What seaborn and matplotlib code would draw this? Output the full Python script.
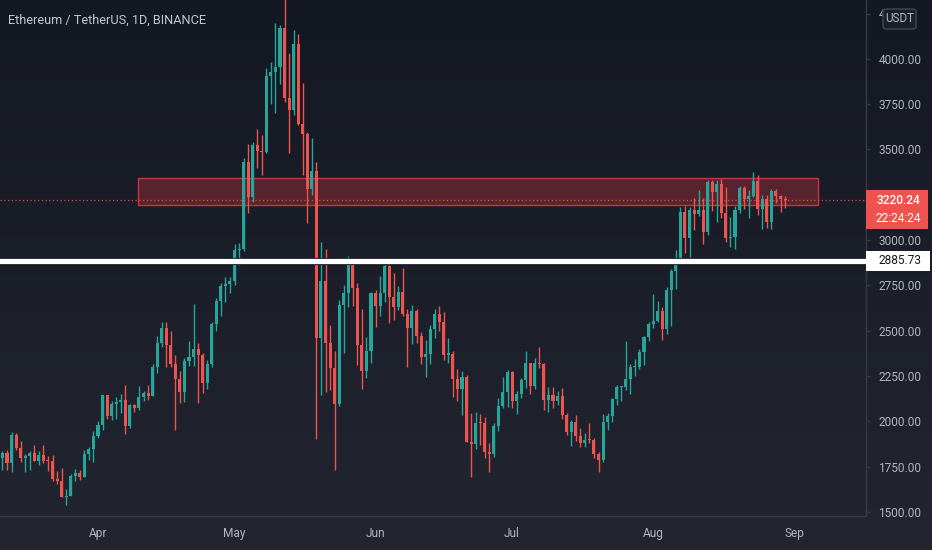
import numpy as np
import pandas as pd
import matplotlib
matplotlib.use("Agg")
import matplotlib.pyplot as plt
import matplotlib.dates as mdates
from matplotlib.colors import LinearSegmentedColormap
from matplotlib.patches import Rectangle, FancyBboxPatch
import seaborn as sns

# ETH/USDT daily candles, 2021-03-11 .. 2021-08-30
start_date = "2021-03-11"
opens = [1799, 1826, 1767, 1923, 1853, 1796, 1806, 1823, 1782, 1812, 1783, 1781, 1681, 1669, 1582, 1587, 1700, 1715, 1691, 1819, 1846,
         1919, 1977, 2143, 2028, 2093, 2108, 2118, 1971, 2088, 2071, 2136, 2157, 2139, 2299, 2432, 2514, 2422, 2316, 2235, 2163,
         2331, 2357, 2397, 2365, 2213, 2316, 2534, 2662, 2746, 2756,
         2773, 2945, 2948, 3431, 3240, 3524, 3490, 3484, 3903, 3929, 3953, 4168, 3785, 3715, 4079, 3640, 3587, 3282, 3380, 2460,
         2772, 2430, 2295, 2096, 2643, 2706, 2888, 2736, 2419, 2279, 2387,
         2706, 2634, 2707, 2855, 2688, 2630, 2715, 2590, 2517, 2609, 2472, 2353, 2372, 2508, 2590, 2548, 2367, 2372, 2231, 2178,
         2245, 1886, 1874, 1989, 1988, 1829, 1817, 1973, 2084, 2159,
         2274, 2112, 2150, 2226, 2320, 2197, 2323, 2316, 2116, 2147, 2111, 2140, 2036, 1940, 1995, 1917, 1880, 1898, 1895, 1820,
         1787, 1995, 2026, 2124, 2189, 2190, 2231, 2299, 2300, 2383, 2462,
         2537, 2555, 2608, 2508, 2725, 2827, 2890, 3157, 3013, 3163, 3141, 3164, 3045, 3322, 3265, 3310, 3149, 3011, 3017, 3167,
         3286, 3226, 3243, 3324, 3173, 3228, 3099, 3273, 3243, 3225]
highs = [1838, 1839, 1943, 1933, 1888, 1820, 1838, 1866, 1835, 1868, 1809, 1812, 1726, 1742, 1625, 1706, 1735, 1730, 1840, 1860, 1947,
         2001, 2145, 2145, 2110, 2135, 2150, 2200, 2095, 2095, 2195, 2167, 2200, 2315, 2470, 2545, 2548, 2497, 2363, 2277, 2350,
         2440, 2645, 2430, 2375, 2340, 2545, 2680, 2760, 2798, 2797,
         2977, 2985, 3450, 3530, 3542, 3611, 3580, 3950, 3980, 4200, 4186, 4372, 4030, 4160, 4138, 3866, 3595, 3562, 3430, 2990,
         2950, 2530, 2385, 2670, 2753, 2910, 2893, 2765, 2620, 2465, 2715,
         2725, 2800, 2890, 2860, 2818, 2745, 2845, 2620, 2640, 2620, 2493, 2450, 2530, 2620, 2635, 2600, 2460, 2388, 2290, 2275,
         2255, 2045, 2050, 2040, 2025, 1877, 1990, 2130, 2245, 2285,
         2275, 2165, 2240, 2385, 2320, 2350, 2410, 2323, 2190, 2190, 2165, 2185, 2044, 2005, 2035, 1960, 1935, 1990, 1907, 1830,
         2040, 2045, 2130, 2200, 2195, 2440, 2317, 2345, 2400, 2470, 2550,
         2700, 2665, 2630, 2740, 2840, 2945, 3180, 3185, 3180, 3230, 3275, 3230, 3330, 3330, 3330, 3335, 3290, 3125, 3185, 3300,
         3300, 3275, 3375, 3360, 3250, 3250, 3280, 3280, 3250, 3245]
lows = [1730, 1728, 1718, 1841, 1776, 1720, 1733, 1780, 1760, 1770, 1726, 1670, 1654, 1580, 1540, 1587, 1671, 1673, 1691, 1785, 1774,
        1905, 1953, 2010, 2005, 2010, 2045, 1932, 1960, 2050, 2060, 2113, 2118, 2139, 2265, 2410, 2300, 2301, 1950, 2100, 2108,
        2305, 2302, 2100, 2155, 2180, 2300, 2500, 2580, 2660, 2710,
        2750, 2860, 2940, 3150, 3211, 3400, 3360, 3480, 3750, 3700, 3860, 3760, 3480, 3690, 3635, 3360, 3095, 3250, 1900, 2145,
        2160, 2170, 1730, 2085, 2376, 2632, 2635, 2310, 2180, 2240, 2320,
        2520, 2578, 2660, 2540, 2560, 2616, 2580, 2300, 2425, 2430, 2315, 2245, 2318, 2460, 2500, 2340, 2320, 2135, 2110, 2034,
        1885, 1694, 1845, 1870, 1797, 1720, 1805, 1945, 2075, 2080,
        2075, 2040, 2130, 2185, 2152, 2180, 2295, 2060, 2050, 2075, 2090, 2010, 1925, 1865, 1890, 1855, 1855, 1880, 1795, 1718,
        1776, 1954, 1995, 2090, 2110, 2170, 2150, 2250, 2290, 2310, 2440,
        2515, 2545, 2450, 2480, 2525, 2730, 2880, 2930, 2905, 3055, 3130, 2980, 3030, 3160, 3100, 3120, 2990, 2960, 2950, 3150,
        3170, 3120, 3240, 3140, 3060, 3065, 3060, 3205, 3155, 3175]
closes = [1826, 1767, 1923, 1853, 1796, 1806, 1823, 1782, 1812, 1783, 1781, 1681, 1669, 1582, 1587, 1700, 1715, 1691, 1819, 1846, 1919,
          1977, 2143, 2028, 2093, 2108, 2118, 1971, 2088, 2071, 2136, 2157, 2139, 2299, 2432, 2514, 2422, 2316, 2235, 2163, 2331,
          2357, 2397, 2365, 2213, 2316, 2534, 2662, 2746, 2756, 2773,
          2945, 2948, 3431, 3240, 3524, 3490, 3484, 3903, 3929, 3953, 4168, 3785, 3715, 4079, 3640, 3587, 3282, 3380, 2460, 2772,
          2430, 2295, 2096, 2643, 2706, 2888, 2736, 2419, 2279, 2387, 2706,
          2634, 2707, 2855, 2688, 2630, 2715, 2590, 2517, 2609, 2472, 2353, 2372, 2508, 2590, 2548, 2367, 2372, 2231, 2178, 2245,
          1886, 1874, 1989, 1988, 1829, 1817, 1973, 2084, 2159, 2274,
          2112, 2150, 2226, 2320, 2197, 2323, 2316, 2116, 2147, 2111, 2140, 2036, 1940, 1995, 1917, 1880, 1898, 1895, 1820, 1787,
          1995, 2026, 2124, 2189, 2190, 2231, 2299, 2300, 2383, 2462, 2537,
          2555, 2608, 2508, 2725, 2827, 2890, 3157, 3013, 3163, 3141, 3164, 3045, 3322, 3265, 3310, 3149, 3011, 3017, 3167, 3286,
          3226, 3243, 3324, 3173, 3228, 3099, 3273, 3243, 3225, 3220.24]

month_ticks = ["2021-04-01", "2021-05-01", "2021-06-01", "2021-07-01", "2021-08-01", "2021-09-01"]
month_labels = ["Apr", "May", "Jun", "Jul", "Aug", "Sep"]
price_ticks = [1500, 1750, 2000, 2250, 2500, 2750, 3000, 3250, 3500, 3750, 4000, 4250]
# 3250 sits behind the last-price tag and 4250 is cut by the USDT badge
price_labels = ["1500.00", "1750.00", "2000.00", "2250.00", "2500.00", "2750.00", "3000.00", "",
                "3500.00", "3750.00", "4000.00", "4"]

zone_top, zone_bottom = 3342, 3192
zone_start, zone_end = "2021-04-09 20:00", "2021-09-06 05:00"
support_level = 2885.73
last_price = 3220.24
countdown = "22:24:24"
title = "Ethereum / TetherUS, 1D, BINANCE"

UP, DOWN = "#26a69a", "#ef5350"
TXT = "#b2b5be"
AXLINE = "#363a45"

sns.set_theme(style="dark", rc={"axes.facecolor": "none", "figure.facecolor": "#131722"})
plt.rcParams["font.family"] = ["Roboto", "DejaVu Sans"]

df = pd.DataFrame({"open": opens, "high": highs, "low": lows, "close": closes},
                  index=pd.date_range(start_date, periods=len(closes), freq="D"))
df["x"] = mdates.date2num(df.index)
df["up"] = df["close"] >= df["open"]

W, H = 932, 550
fig = plt.figure(figsize=(W / 100, H / 100), dpi=100)

# background gradient
bg = fig.add_axes([0, 0, 1, 1], zorder=-10)
grad = np.linspace(0, 1, 256).reshape(-1, 1)
cmap = LinearSegmentedColormap.from_list("tvbg", ["#141823", "#232630"])
bg.imshow(grad, aspect="auto", cmap=cmap, extent=[0, 1, 0, 1], origin="upper")
bg.set_axis_off()

plot_w, plot_h, bottom_h = 866, 516, 34
ax = fig.add_axes([0, bottom_h / H, plot_w / W, plot_h / H])
ax.patch.set_alpha(0)

px_per_day = 4.55
apr1 = mdates.date2num(pd.Timestamp("2021-04-01"))
xmin = apr1 - 98 / px_per_day
ax.set_xlim(xmin, xmin + plot_w / px_per_day)
ymax = 3000 + 240 / 0.1812
ax.set_ylim(ymax - plot_h / 0.1812, ymax)
ppu = plot_h / (ax.get_ylim()[1] - ax.get_ylim()[0])  # pixels per price unit

# candles
cols = np.where(df["up"], UP, DOWN)
ax.vlines(df["x"], df["low"], df["high"], colors=cols, lw=1.0, zorder=3)
body_lo = df[["open", "close"]].min(axis=1)
body_h = (df["close"] - df["open"]).abs().clip(lower=1.2 / ppu)
ax.bar(df["x"], body_h, bottom=body_lo, width=0.66, color=cols, linewidth=0, zorder=4)

# resistance zone
zx0 = mdates.date2num(pd.Timestamp(zone_start))
zx1 = mdates.date2num(pd.Timestamp(zone_end))
ax.add_patch(Rectangle((zx0, zone_bottom), zx1 - zx0, zone_top - zone_bottom,
                       facecolor=(0.85, 0.2, 0.24, 0.32), edgecolor=(0.9, 0.22, 0.26, 0.85), lw=1.0, zorder=2))

# support line
ax.axhline(support_level, color="#131722", lw=5.2, zorder=5)
ax.axhline(support_level, color="white", lw=3.8, zorder=6)

# last price dotted line
ax.axhline(last_price, color=DOWN, lw=0.9, ls=(0, (1, 2)), alpha=0.9, zorder=5)

# axes styling
for s in ["top", "left"]:
    ax.spines[s].set_visible(False)
ax.spines["right"].set_color(AXLINE)
ax.spines["bottom"].set_color(AXLINE)
ax.spines["right"].set_linewidth(1)
ax.spines["bottom"].set_linewidth(1)
ax.yaxis.tick_right()
ax.set_yticks(price_ticks)
ax.set_yticklabels(price_labels)
ax.set_xticks(mdates.date2num(pd.to_datetime(month_ticks)))
ax.set_xticklabels(month_labels)
ax.tick_params(axis="y", colors=TXT, labelsize=8.6, length=3, width=1, pad=6, direction="out")
ax.tick_params(axis="x", colors=TXT, labelsize=8.6, length=3, width=1, pad=5, direction="out")
for t in ax.get_yticklabels() + ax.get_xticklabels():
    t.set_color(TXT)
ax.yaxis.set_tick_params(color=AXLINE)
ax.xaxis.set_tick_params(color=AXLINE)
ax.grid(False)

# price labels on the axis
trans = ax.get_yaxis_transform()
ax.add_patch(Rectangle((1.0, last_price - 29 / ppu), 62 / plot_w, 39 / ppu, transform=trans,
                       facecolor=DOWN, edgecolor="none", clip_on=False, zorder=10))
ax.text(1.0 + 32 / plot_w, last_price, f"{last_price:.2f}", transform=trans, ha="center", va="center",
        color="white", fontsize=8.6, fontweight="medium", clip_on=False, zorder=11)
ax.text(1.0 + 32 / plot_w, last_price - 18 / ppu, countdown, transform=trans, ha="center", va="center",
        color="white", fontsize=8.6, clip_on=False, zorder=11)

ax.add_patch(Rectangle((1.0, support_level - 10 / ppu), 64 / plot_w, 20 / ppu, transform=trans,
                       facecolor="white", edgecolor="none", clip_on=False, zorder=10))
ax.text(1.0 + 34 / plot_w, support_level, f"{support_level:.2f}", transform=trans, ha="center", va="center",
        color="#131722", fontsize=8.6, clip_on=False, zorder=11)

# currency badge
fig.patches.append(FancyBboxPatch((883 / W, 1 - 29 / H), 33 / W, 20 / H, boxstyle="round,pad=0,rounding_size=0.004",
                                  transform=fig.transFigure, facecolor="#1b1f2a", edgecolor="#434651", lw=1, zorder=19))
fig.text(899.5 / W, 1 - 19 / H, "USDT", ha="center", va="center", color=TXT, fontsize=8.4, zorder=20)

# title
fig.text(8 / W, 1 - 20 / H, title, ha="left", va="center", color="#c3c6ce", fontsize=9.2)

fig.savefig("out.png", dpi=100)
